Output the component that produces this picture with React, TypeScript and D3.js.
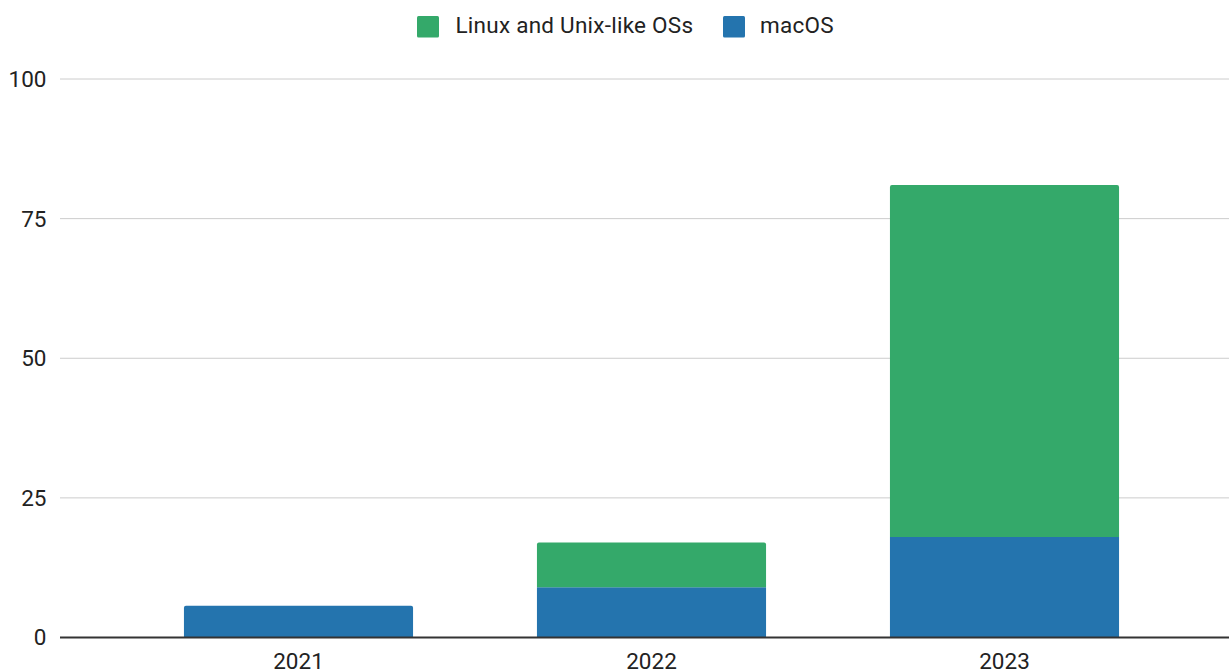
import React from "react";
import * as d3 from "d3";

const years = ["2021", "2022", "2023"];
const macOS = [5.7, 9, 18];
const linux = [0, 8, 63];
const yTicks = [0, 25, 50, 75, 100];
const seriesNames = ["Linux and Unix-like OSs", "macOS"];
const colors = ["#34a96a", "#2474ae"];

const W = 1229;
const H = 671;

function topRounded(x: number, y: number, w: number, h: number, r: number) {
  const rr = Math.min(r, h / 2, w / 2);
  return `M${x},${y + h}V${y + rr}Q${x},${y} ${x + rr},${y}H${x + w - rr}Q${x + w},${y} ${x + w},${y + rr}V${y + h}Z`;
}

export default function App() {
  const y = d3.scaleLinear().domain([0, 100]).range([637.5, 79]);
  const x = d3
    .scaleBand<string>()
    .domain(years)
    .range([122, 1181])
    .paddingInner(0.351)
    .paddingOuter(0.1755);
  const bw = x.bandwidth();
  const font = "Roboto, Arial, sans-serif";
  const fs = 22.5;

  return (
    <svg
      width={W}
      height={H}
      style={{ position: "absolute", left: 0, top: 0, background: "#fff" }}
      fontFamily={font}
    >
      {/* legend */}
      <g>
        <rect x={417} y={16} width={22} height={21.5} fill={colors[0]} rx={1.5} />
        <text x={455.5} y={33.3} fontSize={fs} fill="#222" letterSpacing={0.25}>
          {seriesNames[0]}
        </text>
        <rect x={723} y={16} width={22} height={21.5} fill={colors[1]} rx={1.5} />
        <text x={760} y={33.3} fontSize={fs} fill="#222" letterSpacing={0.25}>
          {seriesNames[1]}
        </text>
      </g>
      {/* gridlines */}
      {yTicks.map((t) => (
        <g key={t}>
          {t !== 0 && (
            <line x1={60} x2={W} y1={y(t)} y2={y(t)} stroke="#cccccc" strokeWidth={1} />
          )}
          <text
            x={46.5}
            y={y(t)}
            dy="0.355em"
            textAnchor="end"
            fontSize={fs}
            fill="#222"
          >
            {t}
          </text>
        </g>
      ))}
      {/* bars */}
      {years.map((yr, i) => {
        const x0 = x(yr)!;
        const m = macOS[i];
        const l = linux[i];
        const mTop = y(m);
        const tTop = y(m + l);
        return (
          <g key={yr}>
            <path
              d={
                l > 0
                  ? `M${x0},${y(0)}V${mTop}H${x0 + bw}V${y(0)}Z`
                  : topRounded(x0, mTop, bw, y(0) - mTop, 2)
              }
              fill={colors[1]}
            />
            {l > 0 && (
              <path d={topRounded(x0, tTop, bw, mTop - tTop, 2)} fill={colors[0]} />
            )}
            <text
              x={x0 + bw / 2}
              y={669.3}
              textAnchor="middle"
              fontSize={fs}
              fill="#222"
            >
              {yr}
            </text>
          </g>
        );
      })}
      {/* baseline */}
      <line x1={60} x2={W} y1={y(0)} y2={y(0)} stroke="#333" strokeWidth={2} />
    </svg>
  );
}
